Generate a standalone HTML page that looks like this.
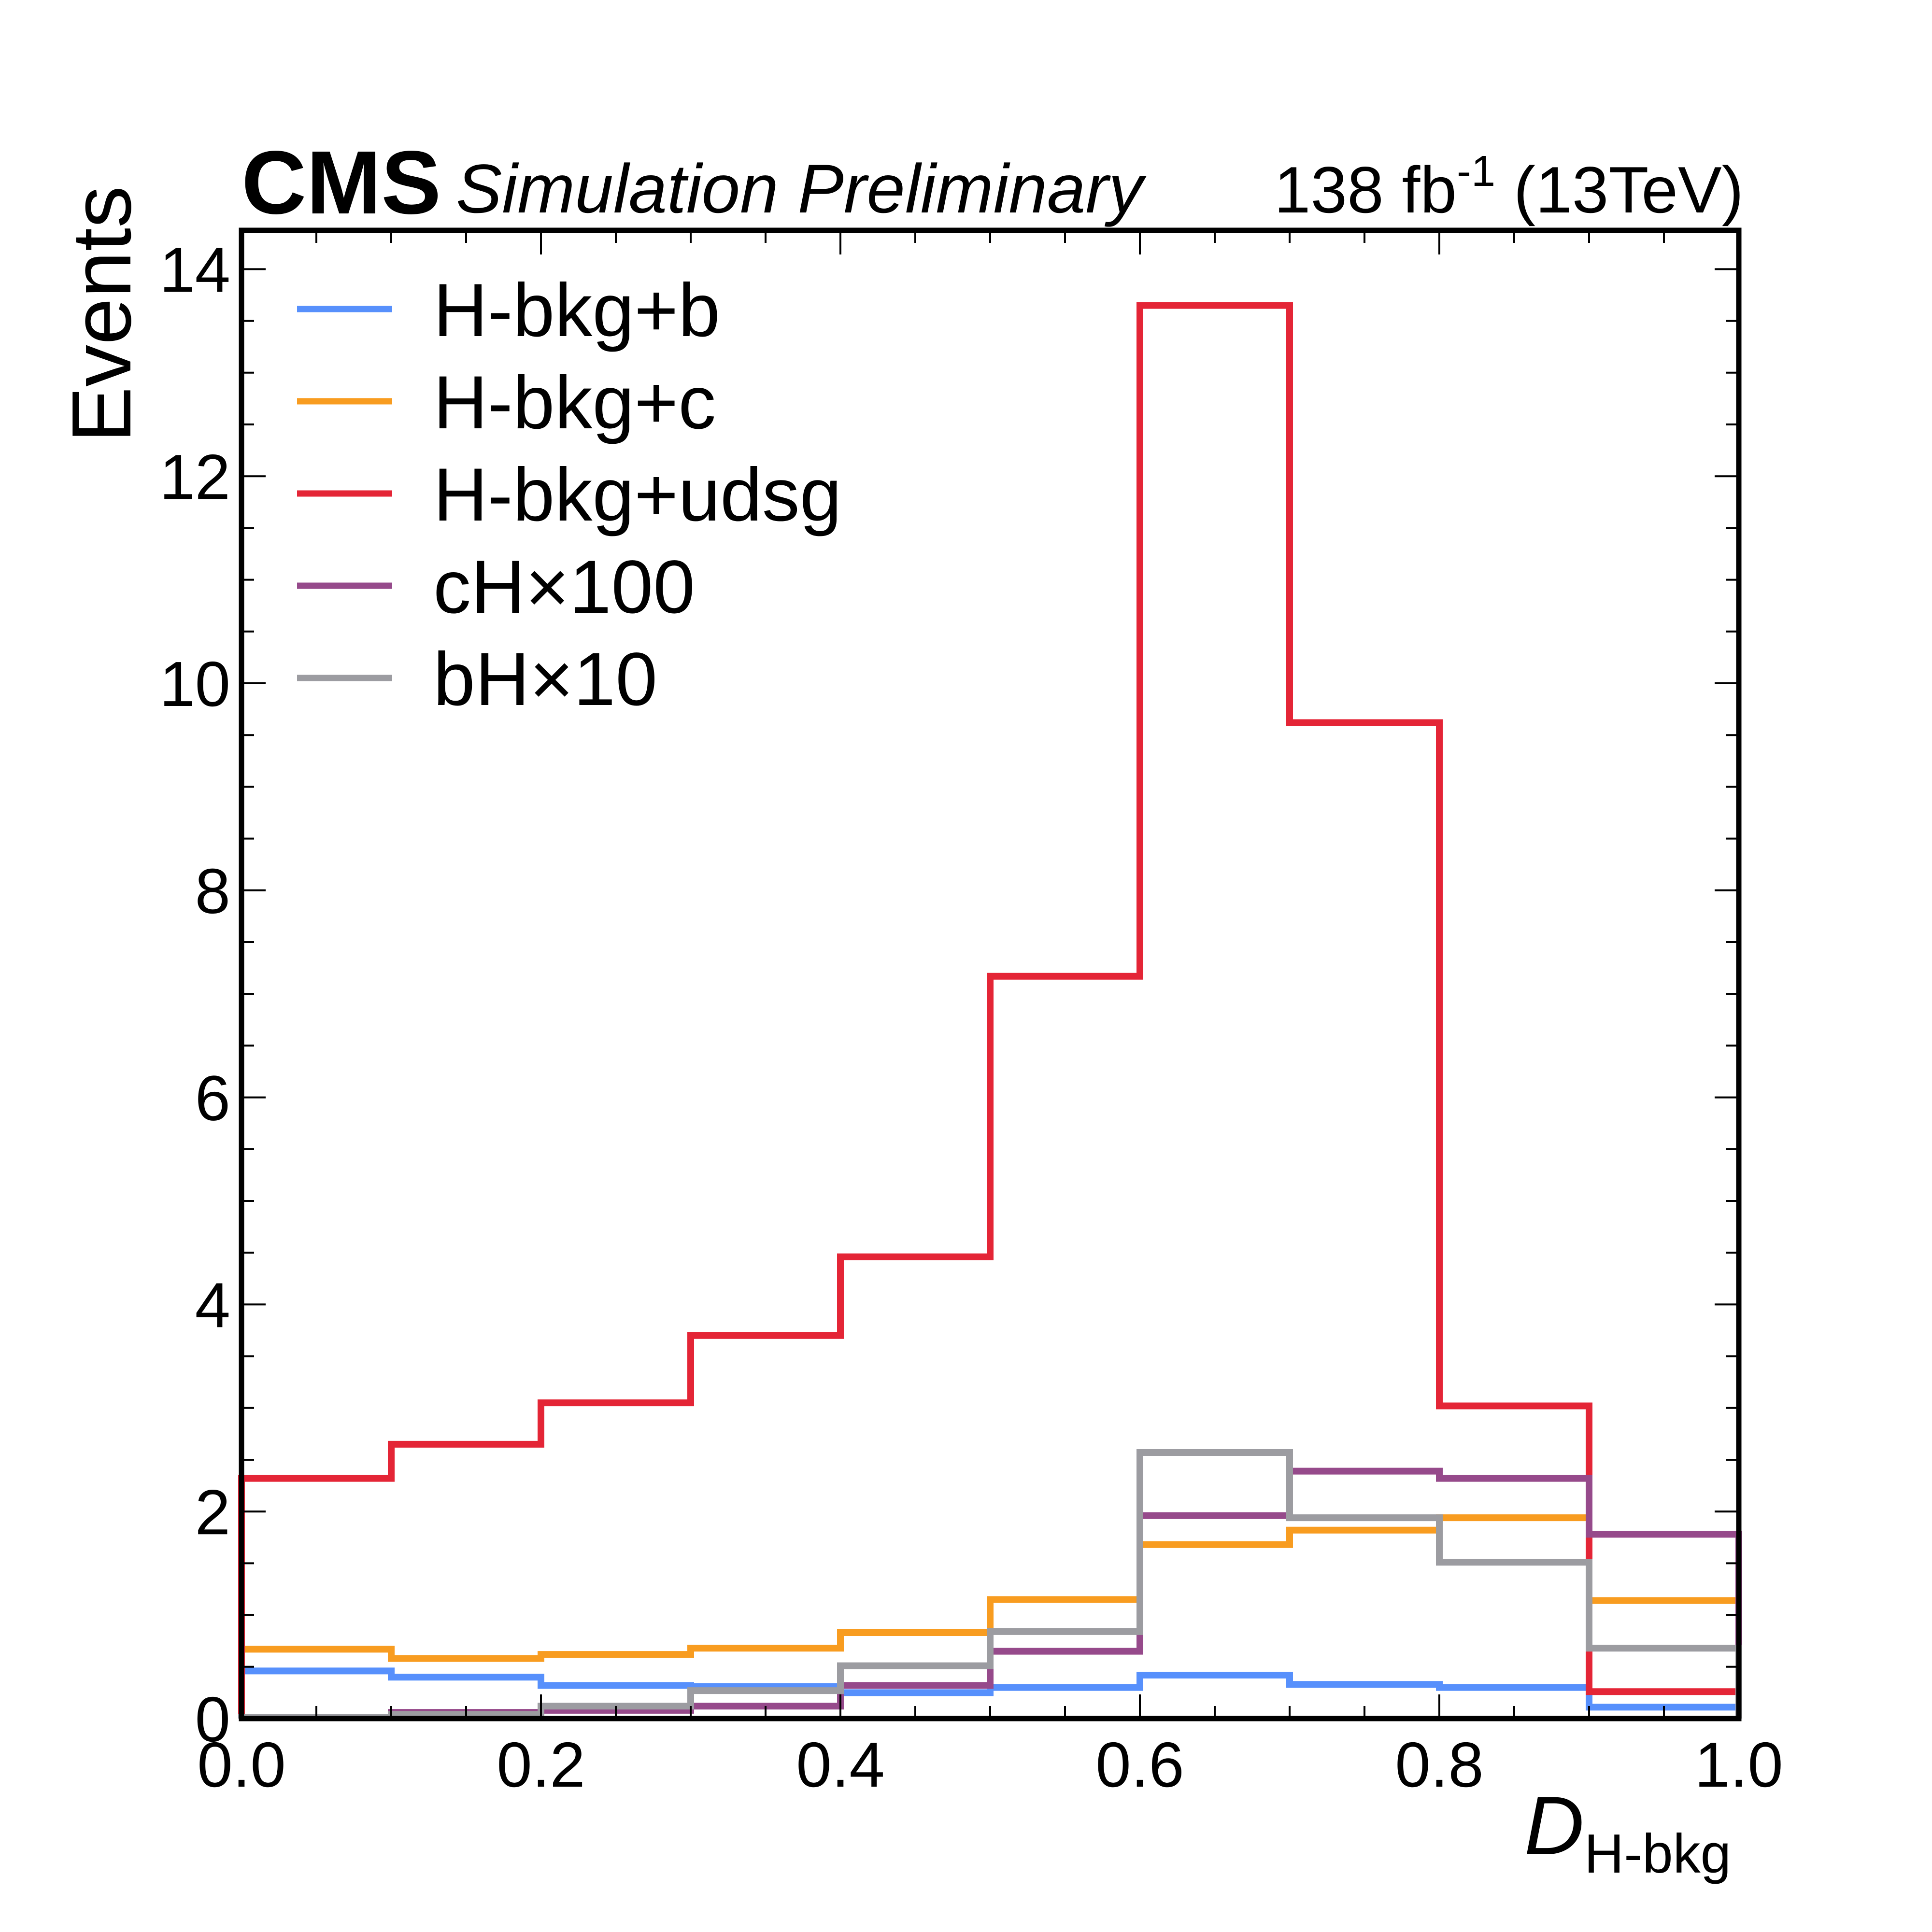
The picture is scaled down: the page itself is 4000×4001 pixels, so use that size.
<!DOCTYPE html>
<html><head><meta charset="utf-8"><style>
html,body{margin:0;padding:0;background:#fff;}
svg{display:block;font-family:"Liberation Sans",Arial,sans-serif;}
</style></head><body>
<svg id="chart" width="4000" height="4001" viewBox="0 0 4000 4001" xmlns="http://www.w3.org/2000/svg">
<rect width="4000" height="4001" fill="#fff"/>
<g id="series"></g>
<g id="ticks"></g>
<rect x="500" y="477" width="3100" height="3082" fill="none" stroke="#000" stroke-width="11"/>
<text x="500" y="442" font-size="186" font-weight="bold">CMS</text>
<text x="944" y="440" font-size="143" font-style="italic">Simulation Preliminary</text>
<text x="3610" y="440" font-size="136" text-anchor="end">138 fb<tspan dy="-55" font-size="90">-1</tspan><tspan dy="55"> (13TeV)</tspan></text>
<text transform="translate(270,385) rotate(-90)" font-size="174" text-anchor="end">Events</text>
<text x="3584" y="3840" font-size="172" text-anchor="end"><tspan font-style="italic">D</tspan><tspan font-size="114" dy="38">H-bkg</tspan></text>
<g id="legend"></g>
</svg>
<script>
const binEdges = [0,0.1,0.2,0.3,0.4,0.5,0.6,0.7,0.8,0.9,1.0];
const seriesNames = ["H-bkg+b","H-bkg+c","H-bkg+udsg","cH×100","bH×10"];
const hbkgB = [0.46,0.40,0.32,0.31,0.25,0.30,0.42,0.33,0.30,0.11];
const hbkgC = [0.67,0.58,0.62,0.68,0.83,1.15,1.68,1.82,1.94,1.14];
const hbkgUdsg = [2.32,2.65,3.05,3.70,4.46,7.17,13.65,9.62,3.02,0.26];
const cH100 = [0.01,0.06,0.08,0.12,0.32,0.65,1.96,2.39,2.32,1.78];
const bH10 = [0.01,0.04,0.12,0.27,0.51,0.84,2.57,1.94,1.51,0.68];
const xTickLabels = ["0.0","0.2","0.4","0.6","0.8","1.0"];
const yTickLabels = ["0","2","4","6","8","10","12","14"];

const colors = ["#5790fc","#f89c20","#e42536","#964a8b","#9c9ca1"];
const allSeries = [hbkgB,hbkgC,hbkgUdsg,cH100,bH10];
const X0=500,X1=3600,Y0=3559,YTOP=477,YMAX=(3559-477)/214.4;
const xs=v=>X0+(X1-X0)*v;
const ys=v=>Y0-(Y0-YTOP)*v/YMAX;
const NS="http://www.w3.org/2000/svg";
function mk(t,a){const e=document.createElementNS(NS,t);for(const k in a)e.setAttribute(k,a[k]);return e;}

const sg=document.getElementById('series');
allSeries.forEach((vals,si)=>{
  let d="M"+xs(binEdges[0])+","+ys(0);
  vals.forEach((v,i)=>{d+=" L"+xs(binEdges[i])+","+ys(v)+" L"+xs(binEdges[i+1])+","+ys(v);});
  d+=" L"+xs(binEdges[binEdges.length-1])+","+ys(0);
  const p=mk('path',{d:d,fill:"none",stroke:colors[si],"stroke-width":14,"stroke-linejoin":"miter"});
  
  
  sg.appendChild(p);
});

const tg=document.getElementById('ticks');
for(let i=0;i<=20;i++){
  const x=xs(i*0.05),L=(i%4==0)?50:26;
  if(i>0&&i<20){
  tg.appendChild(mk('line',{x1:x,x2:x,y1:Y0,y2:Y0-L,stroke:"#000","stroke-width":4}));
  tg.appendChild(mk('line',{x1:x,x2:x,y1:YTOP,y2:YTOP+L,stroke:"#000","stroke-width":4}));}
}
xTickLabels.forEach((lab,i)=>{
  const t=mk('text',{x:xs(i*0.2),y:3700,"font-size":132,"text-anchor":"middle"});
  t.textContent=lab;
  
  
  tg.appendChild(t);
});
for(let v=0.5;v<YMAX;v+=0.5){
  const y=ys(v),L=(Math.abs(v%2)<1e-6)?50:26;
  tg.appendChild(mk('line',{x1:X0,x2:X0+L,y1:y,y2:y,stroke:"#000","stroke-width":4}));
  tg.appendChild(mk('line',{x1:X1,x2:X1-L,y1:y,y2:y,stroke:"#000","stroke-width":4}));
}
yTickLabels.forEach((lab,i)=>{
  const t=mk('text',{x:477,y:ys(i*2)+47,"font-size":132,"text-anchor":"end"});
  t.textContent=lab;
  
  
  tg.appendChild(t);
});

const lg=document.getElementById('legend');
seriesNames.forEach((n,i)=>{
  const y=640+i*191;
  const l=mk('line',{x1:615,x2:812,y1:y,y2:y,stroke:colors[i],"stroke-width":13});
  
  
  lg.appendChild(l);
  const t=mk('text',{x:897,y:y+56,"font-size":156});
  t.textContent=n;
  
  
  lg.appendChild(t);
});
</script>
</body></html>
